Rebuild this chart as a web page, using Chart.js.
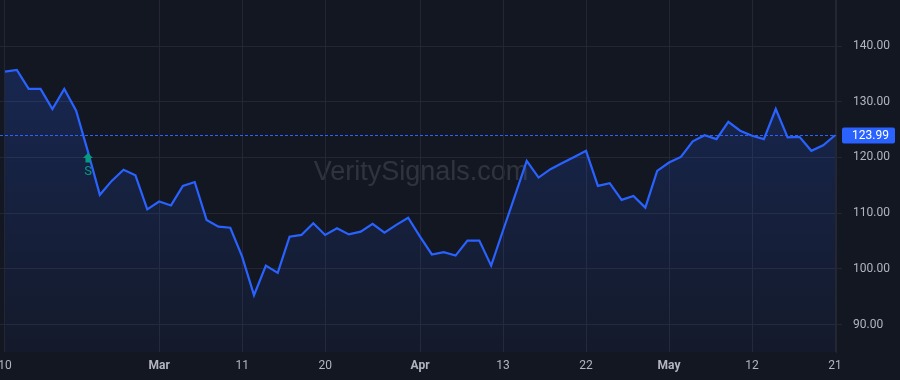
<!DOCTYPE html>
<html>
<head>
<meta charset="utf-8">
<script src="https://cdn.jsdelivr.net/npm/chart.js@4/dist/chart.umd.min.js"></script>
<style>
  html, body { margin: 0; padding: 0; background: #131722; }
  #wrap { width: 900px; height: 380px; position: relative; }
</style>
</head>
<body>
<div id="wrap"><canvas id="priceChart"></canvas></div>
<script>
// closing prices, one per session
const closes = [
  135.4, 135.7, 132.3, 132.3, 128.7, 132.3, 128.4, 121.0, 113.3, 115.8,
  117.8, 116.8, 110.7, 112.1, 111.4, 114.9, 115.6, 108.8, 107.6, 107.4,
  102.2, 95.3, 100.6, 99.3, 105.8, 106.1, 108.2, 106.1, 107.3, 106.2,
  106.7, 108.1, 106.5, 107.9, 109.2, 105.8, 102.6, 103.0, 102.4, 105.1,
  105.1, 100.6, 106.9, 113.1, 119.4, 116.4, 117.9, 119.0, 120.1, 121.2,
  114.9, 115.4, 112.4, 113.1, 111.0, 117.6, 119.1, 120.1, 122.9, 124.0,
  123.3, 126.4, 124.8, 123.9, 123.3, 128.7, 123.6, 123.7, 121.2, 122.2,
  123.99
];

// time axis labels (session index -> text)
const tickIdx = [0, 13, 20, 27, 35, 42, 49, 56, 63, 70];
const tickText = ['10', 'Mar', '11', '20', 'Apr', '13', '22', 'May', '12', '21'];
const monthTicks = ['Mar', 'Apr', 'May'];

// price axis
const priceTicks = [90, 100, 110, 120, 130, 140];

// signal marker
const signalIdx = 7;
const signalText = 'S';

const watermark = 'VeritySignals.com';

const FONT = "Roboto, 'Liberation Sans', sans-serif";
const GRID = '#242733';
const TEXT = '#b2b5be';
const BLUE = '#2962ff';
const GREEN = '#089981';

const lastPrice = closes[closes.length - 1];

const overlays = {
  id: 'overlays',
  beforeDraw(chart) {
    const c = chart.ctx;
    c.save();
    c.fillStyle = '#131722';
    c.fillRect(0, 0, chart.width, chart.height);
    // watermark
    const a = chart.chartArea;
    c.font = "27px 'Liberation Sans', Arial, sans-serif";
    c.fillStyle = 'rgba(255,255,255,0.12)';
    c.textAlign = 'center';
    c.textBaseline = 'middle';
    c.fillText(watermark, (a.left + a.right) / 2 + 3, 173);
    c.restore();
  },
  afterDatasetsDraw(chart) {
    const c = chart.ctx;
    const a = chart.chartArea;
    const xs = chart.scales.x;
    const ys = chart.scales.y;
    c.save();

    // last price dotted line
    const py = Math.round(ys.getPixelForValue(lastPrice)) + 0.5;
    c.strokeStyle = BLUE;
    c.lineWidth = 1;
    c.setLineDash([3, 2]);
    c.beginPath();
    c.moveTo(a.left, py);
    c.lineTo(a.right, py);
    c.stroke();
    c.setLineDash([]);

    // price label
    c.fillStyle = BLUE;
    c.beginPath();
    c.roundRect(a.right + 6, py - 8, 53, 16, 2);
    c.fill();
    c.fillStyle = '#ffffff';
    c.font = '12px ' + FONT;
    c.textAlign = 'left';
    c.textBaseline = 'middle';
    c.fillText(lastPrice.toFixed(2), a.right + 16, py + 0.5);

    // signal arrow
    const sx = xs.getPixelForValue(signalIdx);
    const sy = ys.getPixelForValue(closes[signalIdx]) + 1;
    c.fillStyle = GREEN;
    c.beginPath();
    c.moveTo(sx, sy);
    c.lineTo(sx + 5, sy + 5);
    c.lineTo(sx + 2.5, sy + 5);
    c.lineTo(sx + 2.5, sy + 9.5);
    c.lineTo(sx - 2.5, sy + 9.5);
    c.lineTo(sx - 2.5, sy + 5);
    c.lineTo(sx - 5, sy + 5);
    c.closePath();
    c.fill();
    c.font = '13px ' + FONT;
    c.textAlign = 'center';
    c.textBaseline = 'middle';
    c.fillText(signalText, sx, sy + 19);

    c.restore();
  }
};

const ctx = document.getElementById('priceChart').getContext('2d');
new Chart(ctx, {
  type: 'line',
  data: {
    datasets: [{
      data: closes.map((v, i) => ({ x: i, y: v })),
      borderColor: BLUE,
      borderWidth: 2.2,
      pointRadius: 0,
      tension: 0,
      fill: 'start',
      backgroundColor(context) {
        const area = context.chart.chartArea;
        if (!area) return 'rgba(41,98,255,0.15)';
        const g = context.chart.ctx.createLinearGradient(0, area.top, 0, area.bottom);
        g.addColorStop(0, 'rgba(41,98,255,0.25)');
        g.addColorStop(1, 'rgba(41,98,255,0.04)');
        return g;
      }
    }]
  },
  options: {
    responsive: true,
    maintainAspectRatio: false,
    animation: false,
    layout: { padding: 0 },
    plugins: {
      legend: { display: false },
      tooltip: { enabled: false }
    },
    scales: {
      x: {
        type: 'linear',
        min: -0.42,
        max: 70.08,
        afterBuildTicks(scale) {
          scale.ticks = tickIdx.map(v => ({ value: v }));
        },
        afterFit(scale) {
          scale.paddingLeft = 0;
          scale.paddingRight = 0;
          scale.height = 28;
        },
        grid: { color: GRID, drawTicks: false },
        border: { display: false },
        ticks: {
          padding: 7,
          maxRotation: 0,
          autoSkip: false,
          color: TEXT,
          font(context) {
            const t = tickText[tickIdx.indexOf(context.tick && context.tick.value)];
            return { family: FONT, size: 12, weight: monthTicks.includes(t) ? 'bold' : 'normal' };
          },
          callback(value) {
            const k = tickIdx.indexOf(value);
            return k >= 0 ? tickText[k] : '';
          }
        }
      },
      y: {
        position: 'right',
        min: 85.1,
        max: 148.26,
        afterBuildTicks(scale) {
          scale.ticks = priceTicks.map(v => ({ value: v }));
        },
        afterFit(scale) {
          scale.width = 64;
          scale.paddingTop = 0;
          scale.paddingBottom = 0;
        },
        grid: { color: GRID, tickLength: 6 },
        border: { display: true, color: GRID },
        ticks: {
          padding: 11,
          color: TEXT,
          font: { family: FONT, size: 12 },
          callback: v => v.toFixed(2)
        }
      }
    }
  },
  plugins: [overlays]
});
</script>
</body>
</html>
